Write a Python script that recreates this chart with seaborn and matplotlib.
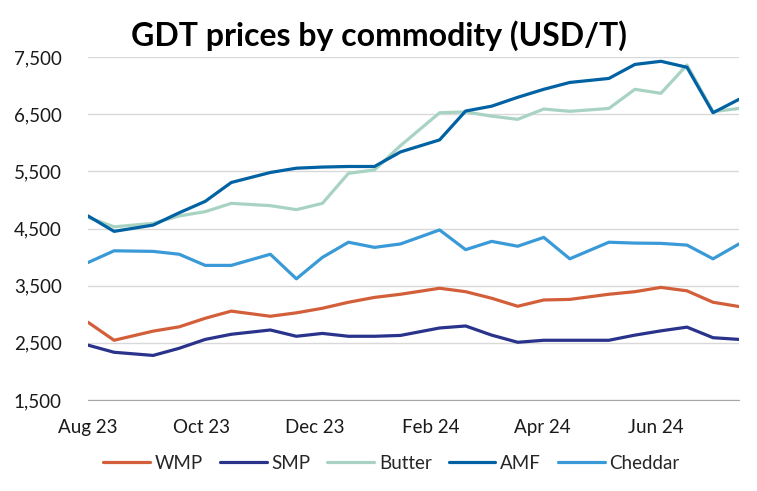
"""
GDT prices by commodity (USD/T) - line chart recreation
"""

import pandas as pd
import numpy as np
import matplotlib
matplotlib.use('Agg')
import matplotlib.pyplot as plt
import matplotlib.dates as mdates
from matplotlib.ticker import FuncFormatter
import seaborn as sns

# GDT auction dates (first and third Tuesday of each month)
auction_dates = ['2023-08-01', '2023-08-15', '2023-09-05', '2023-09-19',
                 '2023-10-03', '2023-10-17', '2023-11-07', '2023-11-21',
                 '2023-12-05', '2023-12-19', '2024-01-02', '2024-01-16',
                 '2024-02-06', '2024-02-20', '2024-03-05', '2024-03-19',
                 '2024-04-02', '2024-04-16', '2024-05-07', '2024-05-21',
                 '2024-06-04', '2024-06-18', '2024-07-02', '2024-07-16']

wmp = [2860, 2545, 2705, 2780, 2930, 3055, 2965, 3025, 3105, 3210, 3295, 3350,
       3455, 3395, 3280, 3140, 3250, 3260, 3350, 3395, 3470, 3410, 3210, 3135]
smp = [2460, 2335, 2280, 2405, 2560, 2650, 2725, 2615, 2665, 2615, 2615, 2630,
       2760, 2795, 2635, 2510, 2545, 2545, 2545, 2635, 2710, 2775, 2590, 2560]
butter = [4695, 4530, 4590, 4720, 4795, 4940, 4900, 4830, 4940, 5465, 5525, 5950,
          6525, 6540, 6465, 6410, 6590, 6550, 6600, 6935, 6865, 7360, 6545, 6600]
amf = [4720, 4450, 4560, 4775, 4975, 5305, 5480, 5555, 5575, 5585, 5585, 5840,
       6050, 6555, 6640, 6795, 6935, 7055, 7125, 7370, 7425, 7320, 6525, 6760]
cheddar = [3905, 4110, 4100, 4050, 3855, 3855, 4050, 3620, 3995, 4260, 4170, 4230,
           4475, 4130, 4275, 4190, 4345, 3970, 4260, 4245, 4240, 4210, 3970, 4230]

commodities = ['WMP', 'SMP', 'Butter', 'AMF', 'Cheddar']
colors = ['#D35F3A', '#2A338C', '#A8D3C2', '#0062A3', '#3A9AD8']
y_ticks = [1500, 2500, 3500, 4500, 5500, 6500, 7500]
x_ticks = ['2023-08-01', '2023-10-01', '2023-12-01', '2024-02-01',
           '2024-04-01', '2024-06-01']

sns.set_style('white')
plt.rcParams['font.family'] = ['Lato', 'DejaVu Sans']

df = pd.DataFrame({'date': pd.to_datetime(auction_dates),
                   'WMP': wmp, 'SMP': smp, 'Butter': butter,
                   'AMF': amf, 'Cheddar': cheddar})
long_df = df.melt(id_vars='date', var_name='commodity', value_name='price')

fig = plt.figure(figsize=(7.57, 4.91), dpi=100)
ax = fig.add_axes([0.1163, 0.1853, 0.86, 0.6986])

sns.lineplot(data=long_df, x='date', y='price', hue='commodity',
             hue_order=commodities, palette=dict(zip(commodities, colors)),
             linewidth=2.3, ax=ax)

ax.set_ylim(1500, 7500)
ax.set_xlim(pd.Timestamp('2023-08-01'), pd.Timestamp('2024-07-16'))
ax.set_yticks(y_ticks)
ax.yaxis.set_major_formatter(FuncFormatter(lambda v, p: f'{int(v):,}'))
ax.set_xticks(pd.to_datetime(x_ticks))
ax.xaxis.set_major_formatter(mdates.DateFormatter('%b %y'))
ax.grid(axis='y', color='#D9D9D9', linewidth=1)
ax.set_xlabel('')
ax.set_ylabel('')

for side in ['top', 'right', 'left']:
    ax.spines[side].set_visible(False)
ax.spines['bottom'].set_color('#A6A6A6')
ax.tick_params(axis='x', direction='out', length=7, width=1, color='#A6A6A6',
               labelsize=13.5, pad=7, labelcolor='#1a1a1a')
ax.tick_params(axis='y', length=0, labelsize=13.5, pad=19, labelcolor='#1a1a1a')

leg = fig.legend(*ax.get_legend_handles_labels(), loc='center',
                 bbox_to_anchor=(0.517, 0.057), ncol=5,
                 frameon=False, fontsize=13.5, handlelength=2.5,
                 handletextpad=0.25, columnspacing=0.9)
ax.get_legend().remove()
for line in leg.get_lines():
    line.set_linewidth(2.3)

fig.text(0.5, 0.906, 'GDT prices by commodity (USD/T)', ha='center',
         va='baseline', fontsize=23, fontweight='bold', color='black')

fig.savefig('out.png', dpi=100)
